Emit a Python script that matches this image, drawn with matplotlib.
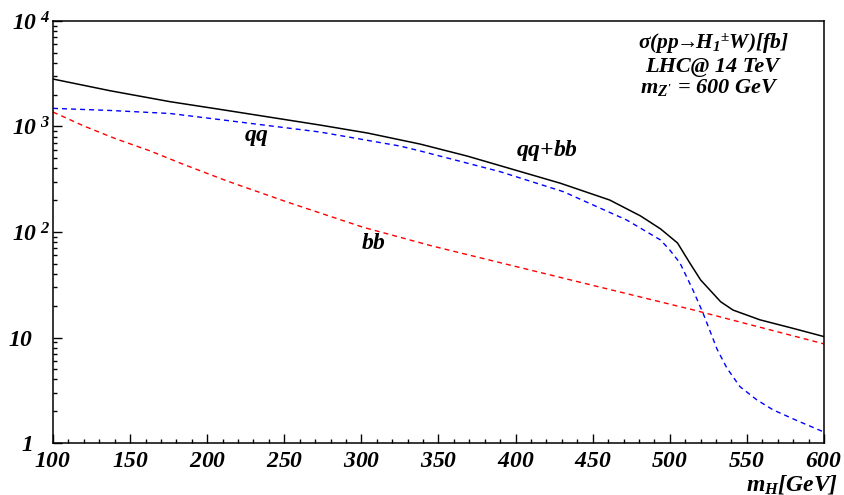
import matplotlib
matplotlib.use("Agg")
import matplotlib.pyplot as plt
from matplotlib import ticker
import numpy as np

plt.rcParams['font.family'] = ['Liberation Serif', 'DejaVu Serif']
plt.rcParams['font.weight'] = 'bold'
plt.rcParams['font.style'] = 'italic'
plt.rcParams['mathtext.fontset'] = 'custom'
plt.rcParams['mathtext.rm'] = 'Liberation Serif:bold:italic'
plt.rcParams['mathtext.it'] = 'Liberation Serif:bold:italic'
plt.rcParams['mathtext.bf'] = 'Liberation Serif:bold:italic'
plt.rcParams['mathtext.sf'] = 'Liberation Serif:bold'

# qq+bb (total)
mh_tot = [100, 137, 176, 208, 273, 304, 338, 368.5, 429, 461, 481, 494, 505, 513, 520, 533, 541, 558.5, 580, 600]
sig_tot = [2818, 2183, 1718, 1456, 1033, 867, 682, 525, 290, 201, 142, 107, 78.7, 50.8, 35.1, 21.8, 18.2, 14.7, 12.2, 10.2]
# qq
mh_qq = [100, 137, 176, 208, 273, 325, 338, 390, 431, 472, 494, 500, 506.6, 515, 521.5, 530.6, 537, 545.5, 556.5, 567, 582.5, 600]
sig_qq = [1486, 1419, 1328, 1164, 887, 653, 587, 373, 241, 130, 84, 67.5, 50.8, 28.2, 17.1, 7.78, 5.14, 3.42, 2.56, 2.06, 1.63, 1.27]
# bb
mh_bb = [100, 120, 141, 163, 184, 213, 252, 301, 346, 433, 515, 600]
sig_bb = [1371, 1011, 762, 587, 441, 304, 192, 111, 73.6, 35.9, 18.3, 8.7]

xticks = [100, 150, 200, 250, 300, 350, 400, 450, 500, 550, 600]
yticks = [1, 10, 100, 1000, 10000]
ytick_labels = {1: r'$1$', 10: r'$10$', 100: r'$10^{\ 2}$',
                1000: r'$10^{\ 3}$', 10000: r'$10^{\ 4}$'}

fig = plt.figure(figsize=(8.45, 4.95), dpi=100)
ax = fig.add_axes([53/845, 52/495, (824-53)/845, (443-21)/495])

ax.plot(mh_tot, sig_tot, color='black', lw=1.1, solid_joinstyle='round')
ax.plot(mh_qq, sig_qq, color='#0000ff', lw=1.0, dashes=(3.6, 2.9))
ax.plot(mh_bb, sig_bb, color='#ff0000', lw=1.0, dashes=(3.6, 2.9))

ax.set_yscale('log')
ax.set_xlim(100, 600)
ax.set_ylim(1, 10000)

ax.set_xticks(xticks)
ax.xaxis.set_major_formatter(ticker.FuncFormatter(lambda v, p: r'$%d$' % v))
ax.xaxis.set_minor_locator(ticker.MultipleLocator(10))
ax.set_yticks(yticks)
ax.yaxis.set_major_formatter(ticker.FuncFormatter(lambda v, p: ytick_labels.get(int(round(v)), '')))
ax.yaxis.set_minor_locator(ticker.LogLocator(base=10, subs=np.arange(2, 10)))
ax.yaxis.set_minor_formatter(ticker.NullFormatter())

ax.tick_params(which='both', direction='in', top=False, right=False, width=1.0, color='black')
ax.tick_params(which='major', length=6.5)
ax.tick_params(which='minor', length=3.2)
ax.tick_params(axis='x', which='major', labelsize=17, pad=6)
ax.tick_params(axis='y', which='major', labelsize=17, pad=2.5)
for s in ax.spines.values():
    s.set_linewidth(1.1)

# plain labels "1" and "10" sit further from the axis than the powers
for t in ax.yaxis.get_major_ticks()[:2]:
    t.set_pad(14.5)


def px(xp, yp):
    return ((xp - 53) / (824 - 53), (443 - yp) / (443 - 21))


ax.text(*px(257, 138), r'$qq$', transform=ax.transAxes, ha='center', va='center', fontsize=17)
ax.text(*px(547, 151), r'$qq$+$bb$', transform=ax.transAxes, ha='center', va='center', fontsize=17)
ax.text(*px(373, 244), r'$bb$', transform=ax.transAxes, ha='center', va='center', fontsize=17)

ax.text(*px(713, 49), r'$\mathsf{\sigma}(pp\!\!\rightarrow\!\!H_{1}{}^{\mathsf{\pm}}W)[fb]$', transform=ax.transAxes,
        ha='center', va='baseline', fontsize=15.5)
ax.text(*px(712, 72.5), 'LHC@ 14 TeV', transform=ax.transAxes, ha='center', va='baseline', fontsize=16)
ax.text(*px(709, 93), r"$m_{Z'}$ = 600 GeV", transform=ax.transAxes, ha='center', va='baseline', fontsize=16)

fig.text(838/845, 1 - 490/495, r'$m_{H}[GeV]$', ha='right', va='baseline', fontsize=17)

fig.savefig('out.png', dpi=100)
